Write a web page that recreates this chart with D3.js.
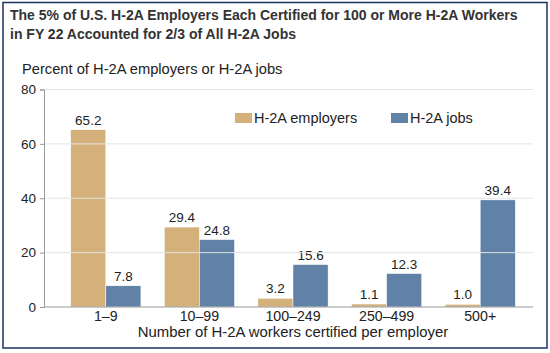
<!DOCTYPE html>
<html><head><meta charset="utf-8">
<script src="https://cdn.jsdelivr.net/npm/d3@7"></script>
<style>body{margin:0;background:#fff;} svg{display:block;font-family:"Liberation Sans",Arial,sans-serif;}</style>
</head><body>
<svg id="c" width="550" height="353"></svg>
<script>
const categories = ["1–9", "10–99", "100–249", "250–499", "500+"];
const seriesNames = ["H-2A employers", "H-2A jobs"];
const employers = [65.2, 29.4, 3.2, 1.1, 1.0];
const jobs = [7.8, 24.8, 15.6, 12.3, 39.4];
const yTicks = [0, 20, 40, 60, 80];
const colors = ["#d4b17b", "#5f82a6"];

const svg = d3.select("#c");
svg.append("rect").attr("x",3).attr("y",2.5).attr("width",544).attr("height",345.5)
  .attr("fill","#fff").attr("stroke","#1c3360").attr("stroke-width",1.5);

svg.append("text").attr("x",10).attr("y",20).attr("font-size",14).attr("font-weight","bold").attr("fill","#333")
  .text("The 5% of U.S. H-2A Employers Each Certified for 100 or More H-2A Workers");
svg.append("text").attr("x",10).attr("y",39).attr("font-size",14).attr("font-weight","bold").attr("fill","#333")
  .text("in FY 22 Accounted for 2/3 of All H-2A Jobs");
svg.append("text").attr("x",22).attr("y",74).attr("font-size",14.7).attr("fill","#222")
  .text("Percent of H-2A employers or H-2A jobs");

const y = d3.scaleLinear().domain([0,80]).range([307,89.5]);
const x0 = d3.scaleBand().domain(categories).range([59,527]).paddingInner(0.25).paddingOuter(0.125);
const x1 = d3.scaleBand().domain(seriesNames).range([0,x0.bandwidth()]);

const data = categories.map((c,i)=>({cat:c, vals:[employers[i], jobs[i]]}));

const g = svg.append("g");
data.forEach(d=>{
  d.vals.forEach((v,j)=>{
    const bx = x0(d.cat)+x1(seriesNames[j]);
    g.append("rect").attr("x",bx).attr("y",y(v)).attr("width",x1.bandwidth()).attr("height",y(0)-y(v))
      .attr("fill",colors[j]).attr("stroke","#fff").attr("stroke-width",0.5);
    g.append("text").attr("x",bx+x1.bandwidth()/2).attr("y",y(v)-5).attr("text-anchor","middle")
      .attr("font-size",13.5).attr("fill","#222").text(v.toFixed(1));
  });
});

// gridlines (drawn over labels as in reference)
svg.append("g").selectAll("line").data(yTicks.filter(t=>t>0)).join("line")
  .attr("x1",45).attr("x2",533).attr("y1",d=>y(d)).attr("y2",d=>y(d))
  .attr("stroke","#e4e4e4").attr("stroke-width",1);

const yAxis = svg.append("g").attr("transform","translate(44,0)")
  .call(d3.axisLeft(y).tickValues(yTicks).tickSize(4).tickPadding(4));
yAxis.select(".domain").attr("stroke","#999");
yAxis.selectAll(".tick line").attr("stroke","#999");
yAxis.selectAll("text").attr("font-size",13.5).attr("fill","#222").attr("font-family","Liberation Sans, Arial, sans-serif");

const xAxis = svg.append("g").attr("transform","translate(0,307)")
  .call(d3.axisBottom(x0).tickSize(0).tickPadding(4));
xAxis.select(".domain").attr("d","M44,0H533").attr("stroke","#999");
xAxis.selectAll("text").attr("font-size",14.2).attr("fill","#222").attr("font-family","Liberation Sans, Arial, sans-serif");

svg.append("text").attr("x",293).attr("y",337).attr("text-anchor","middle").attr("font-size",14.9).attr("fill","#222")
  .text("Number of H-2A workers certified per employer");

// legend
const legX = [235, 391];
seriesNames.forEach((s,j)=>{
  svg.append("rect").attr("x",legX[j]).attr("y",113).attr("width",17).attr("height",10).attr("fill",colors[j]);
  svg.append("text").attr("x",legX[j]+19).attr("y",123).attr("font-size",14.5).attr("fill","#222").text(s);
});
</script>
</body></html>
